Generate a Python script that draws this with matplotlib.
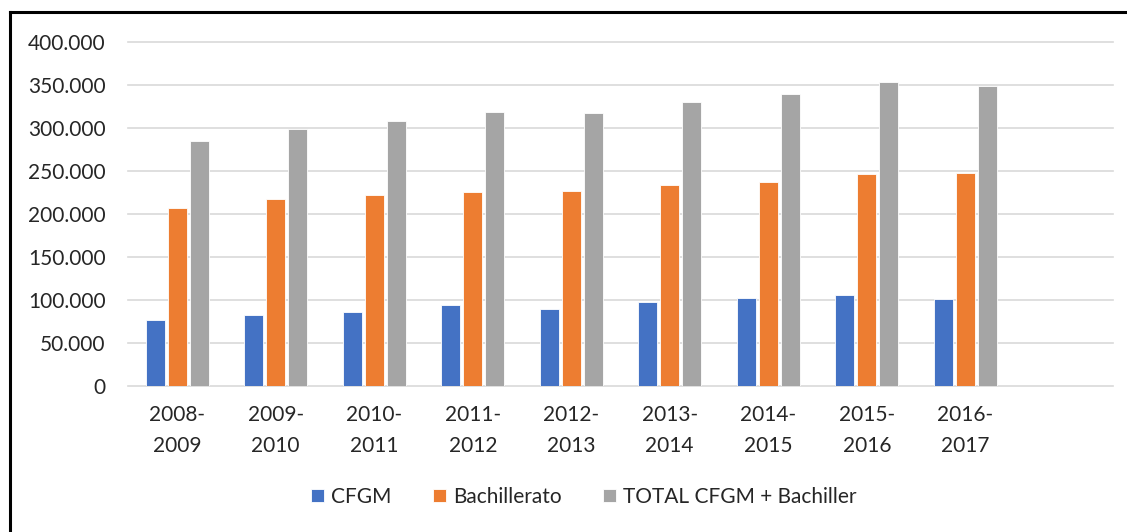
import numpy as np
import matplotlib.pyplot as plt
from matplotlib.lines import Line2D
from matplotlib.ticker import FuncFormatter, MultipleLocator

cursos = ['2008-\n2009', '2009-\n2010', '2010-\n2011', '2011-\n2012', '2012-\n2013',
          '2013-\n2014', '2014-\n2015', '2015-\n2016', '2016-\n2017']
cfgm = [76300, 82100, 85600, 94100, 89900, 97200, 101900, 106100, 100700]
bachillerato = [206800, 217300, 221900, 225000, 226200, 233900, 236600, 245900, 247100]
total = [284300, 299000, 308300, 318400, 316800, 330400, 339300, 352800, 348200]

series = [('CFGM', cfgm, '#4472C4'),
          ('Bachillerato', bachillerato, '#ED7D31'),
          ('TOTAL CFGM + Bachiller', total, '#A5A5A5')]

plt.rcParams['font.family'] = ['Lato', 'DejaVu Sans']
W, H = 1127, 532
fig = plt.figure(figsize=(W / 100, H / 100), dpi=100)
ax = fig.add_axes([128 / W, 1 - 386 / H, (1113 - 128) / W, (386 - 41.7) / H])

x = np.arange(len(cursos))
step = 0.223
for i, (nombre, vals, color) in enumerate(series):
    ax.bar(x + (i - 1) * step, vals, width=0.19, color=color, label=nombre,
           edgecolor='white', linewidth=0.6, zorder=3)

ax.set_xlim(-0.5, 9.5)
ax.set_ylim(0, 400000)
ax.yaxis.set_major_locator(MultipleLocator(50000))
ax.yaxis.set_major_formatter(FuncFormatter(lambda v, p: f"{int(v):,}".replace(',', '.')))
ax.grid(axis='y', color='#d9d9d9', linewidth=1.2, zorder=0)
for gl in ax.get_ygridlines():
    gl.set_clip_on(False)
ax.set_axisbelow(True)
for s in ax.spines.values():
    s.set_visible(False)
ax.set_xticks(x)
ax.set_xticklabels(cursos, linespacing=1.65)
ax.tick_params(axis='both', length=0, labelsize=15, colors='#262626')
ax.tick_params(axis='y', pad=16)
ax.tick_params(axis='x', pad=14)

fig.legend(loc='center', bbox_to_anchor=(584 / W, 1 - 497 / H), ncol=3, frameon=False,
           fontsize=15, handlelength=0.6, handleheight=0.6, handletextpad=0.35,
           columnspacing=2.0, labelcolor='#262626')

# marco del gráfico (izquierda y arriba)
fig.add_artist(Line2D([10 / W, 10 / W], [0, 1 - 12 / H], transform=fig.transFigure,
                      color='black', linewidth=2.2))
fig.add_artist(Line2D([10 / W, 1], [1 - 12 / H, 1 - 12 / H], transform=fig.transFigure,
                      color='black', linewidth=2.2))

fig.savefig('out.png', dpi=100)
